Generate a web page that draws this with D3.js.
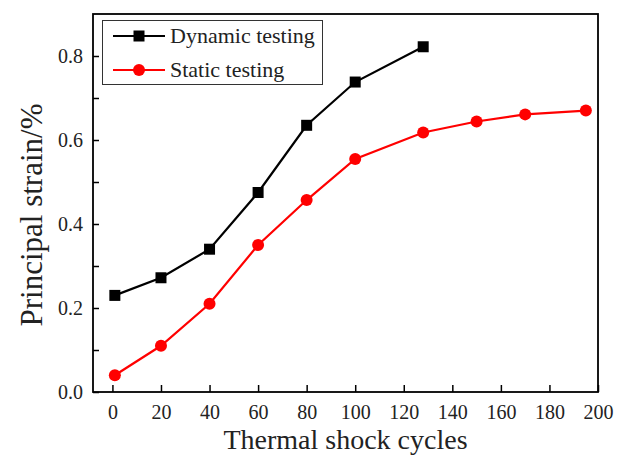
<!DOCTYPE html>
<html>
<head>
<meta charset="utf-8">
<script src="https://cdn.jsdelivr.net/npm/d3@7"></script>
<style>
    html, body {
        margin: 0;
        padding: 0;
        background: #fff;
    }
</style>
</head>
<body>
<div id="chart"></div>
<script>
const cycles = [1, 20, 40, 60, 80, 100, 128, 150, 170, 195];
const dynamicStrain = [0.23, 0.272, 0.34, 0.475, 0.635, 0.738, 0.822];
const staticStrain = [0.04, 0.11, 0.21, 0.35, 0.457, 0.555, 0.618, 0.644, 0.661, 0.67];
const xTicks = [0, 20, 40, 60, 80, 100, 120, 140, 160, 180, 200];
const yTicks = [0, 0.1, 0.2, 0.3, 0.4, 0.5, 0.6, 0.7, 0.8];
const seriesNames = ["Dynamic testing", "Static testing"];

class StrainChart {
    constructor({wrapperId, width, height}) {
        this.wrapperId = wrapperId;
        this.width = width;
        this.height = height;
        this.frame = {left: 93, right: 598, top: 14, bottom: 392};
        this.font = "'Liberation Serif', 'Times New Roman', serif";

        this.initialize();
    }

    initialize = () => {
        const {frame} = this;

        this.svg = d3.select(`#${this.wrapperId}`).append("svg")
            .attr("width", this.width)
            .attr("height", this.height)
            .style("font-family", this.font);

        this.x = d3.scaleLinear().domain([-8, 200]).range([frame.left, frame.right]);
        this.y = d3.scaleLinear().domain([0, 0.9]).range([frame.bottom, frame.top]);

        this.drawAxes();
        this.drawSeries({values: dynamicStrain, color: "#000", marker: "square"});
        this.drawSeries({values: staticStrain, color: "#ff0000", marker: "circle"});
        this.drawLegend();
    };

    drawAxes = () => {
        const {svg, x, y, frame} = this;

        // ticks point inward, labels sit outside the frame
        const xAxis = svg.append("g")
            .attr("transform", `translate(0,${frame.bottom})`)
            .call(d3.axisBottom(x).tickValues(xTicks).tickSizeInner(-7).tickSizeOuter(0).tickPadding(13));

        const yAxis = svg.append("g")
            .attr("transform", `translate(${frame.left},0)`)
            .call(d3.axisLeft(y).tickValues(yTicks).tickSizeInner(-6).tickSizeOuter(0).tickPadding(10)
                .tickFormat((d) => Math.round(d * 10) % 2 === 0 ? d3.format(".1f")(d) : ""));

        [xAxis, yAxis].forEach((axis) => {
            axis.attr("font-family", null);
            axis.select(".domain").remove();
            axis.selectAll("line").attr("stroke", "#000").attr("stroke-width", 1.5);
            axis.selectAll("text")
                .attr("fill", "#222")
                .style("font-family", this.font)
                .style("font-size", "20px");
        });

        svg.append("rect")
            .attr("x", frame.left)
            .attr("y", frame.top)
            .attr("width", frame.right - frame.left)
            .attr("height", frame.bottom - frame.top)
            .attr("fill", "none")
            .attr("stroke", "#000")
            .attr("stroke-width", 1.8);

        svg.append("text")
            .attr("x", (frame.left + frame.right) / 2)
            .attr("y", 449)
            .attr("text-anchor", "middle")
            .attr("fill", "#222")
            .style("font-size", "28px")
            .text("Thermal shock cycles");

        svg.append("text")
            .attr("transform", `translate(42,${(frame.top + frame.bottom) / 2 + 12}) rotate(-90)`)
            .attr("text-anchor", "middle")
            .attr("fill", "#222")
            .style("font-size", "31px")
            .text("Principal strain/%");
    };

    drawMarker = (group, {cx, cy, color, marker}) => {
        if (marker === "square") {
            group.append("rect")
                .attr("x", cx - 5.5)
                .attr("y", cy - 5.5)
                .attr("width", 11)
                .attr("height", 11)
                .attr("fill", color);
        } else {
            group.append("circle")
                .attr("cx", cx)
                .attr("cy", cy)
                .attr("r", 6)
                .attr("fill", color);
        }
    };

    drawSeries = ({values, color, marker}) => {
        const {svg, x, y} = this;
        const points = values.map((v, i) => [cycles[i], v]);

        const line = d3.line()
            .x((d) => x(d[0]))
            .y((d) => y(d[1]));

        const group = svg.append("g");
        group.append("path")
            .attr("d", line(points))
            .attr("fill", "none")
            .attr("stroke", color)
            .attr("stroke-width", 2.2);

        points.forEach((d) => this.drawMarker(group, {cx: x(d[0]), cy: y(d[1]), color, marker}));
    };

    drawLegend = () => {
        const {svg} = this;
        const legend = svg.append("g");

        legend.append("rect")
            .attr("x", 102.5)
            .attr("y", 20.5)
            .attr("width", 220)
            .attr("height", 64)
            .attr("fill", "#fff")
            .attr("stroke", "#333")
            .attr("stroke-width", 1);

        const entries = [
            {name: seriesNames[0], color: "#000", marker: "square", cy: 36},
            {name: seriesNames[1], color: "#ff0000", marker: "circle", cy: 70}
        ];

        entries.forEach((entry) => {
            legend.append("line")
                .attr("x1", 113)
                .attr("x2", 165)
                .attr("y1", entry.cy)
                .attr("y2", entry.cy)
                .attr("stroke", entry.color)
                .attr("stroke-width", 2.2);

            this.drawMarker(legend, {cx: 139, cy: entry.cy, color: entry.color, marker: entry.marker});

            legend.append("text")
                .attr("x", 170)
                .attr("y", entry.cy + 7)
                .attr("fill", "#222")
                .style("font-size", "22px")
                .text(entry.name);
        });
    };
}

new StrainChart({wrapperId: "chart", width: 624, height: 457});
</script>
</body>
</html>
